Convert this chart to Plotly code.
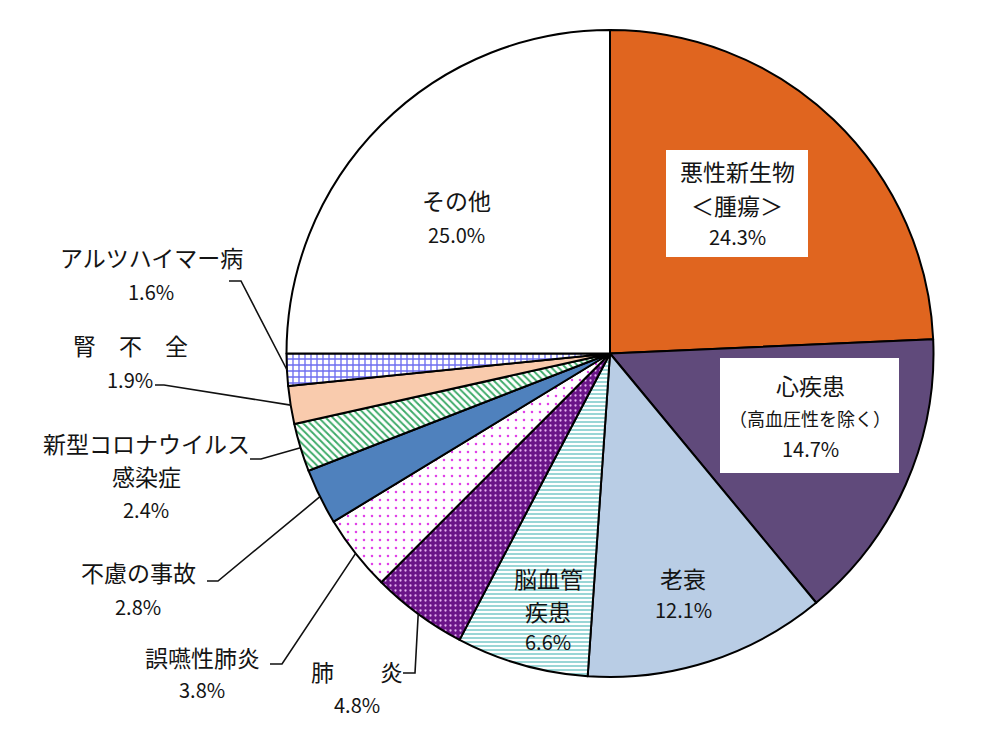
import math
import plotly.graph_objects as go

# ---------------- data ----------------
categories = ["悪性新生物＜腫瘍＞", "心疾患（高血圧性を除く）", "老衰", "脳血管疾患", "肺炎",
              "誤嚥性肺炎", "不慮の事故", "新型コロナウイルス感染症", "腎不全",
              "アルツハイマー病", "その他"]
values = [24.3, 14.7, 12.1, 6.6, 4.8, 3.8, 2.8, 2.4, 1.9, 1.6, 25.0]
label_lines = [["悪性新生物", "＜腫瘍＞"], ["心疾患", "（高血圧性を除く）"], ["老衰"],
               ["脳血管", "疾患"], ["肺　　炎"], ["誤嚥性肺炎"], ["不慮の事故"],
               ["新型コロナウイルス", "感染症"], ["腎　不　全"], ["アルツハイマー病"], ["その他"]]
pct_labels = [f"{v:.1f}%" for v in values]

# ---------------- styles ----------------
W, H = 1004, 753
OFF = 8  # page body margin
CX, CY, R = 610, 353.5, 323.5
colors = ["#E0651F", "#604A7B", "#B9CDE5", "#E8F7F7", "#6A1488", "#FFFFFF",
          "#4F81BD", "#FFFFFF", "#F9CBAD", "#FFFFFF", "#FFFFFF"]
p_shape = ["", "", "", "-", ".", ".", "", "\\", "", "+", ""]
p_fg = ["#000", "#000", "#000", "#8FD2D2", "#E6B4F0", "#E040E8", "#000", "#3DAA68",
        "#000", "#6E6EF0", "#000"]
p_bg = ["#E0651F", "#604A7B", "#B9CDE5", "#FFFFFF", "#6A1488", "#FFFFFF", "#4F81BD",
        "#FFFFFF", "#F9CBAD", "#FFFFFF", "#FFFFFF"]
p_size = [8, 8, 8, 4, 5, 8, 8, 5, 8, 6, 8]
p_sol = [0.3, 0.3, 0.3, 0.45, 0.16, 0.08, 0.3, 0.38, 0.3, 0.4, 0.3]

JP = "Noto Sans CJK JP"
TXT = "#141414"

def px(x, y):
    return (x - OFF) / W, 1 - (y - OFF) / H

fig = go.Figure(go.Pie(
    labels=categories, values=values, sort=False, direction="clockwise", rotation=0,
    textinfo="none", hoverinfo="label+percent", showlegend=False,
    marker=dict(colors=colors, line=dict(color="black", width=2),
                pattern=dict(shape=p_shape, fgcolor=p_fg, bgcolor=p_bg,
                             size=p_size, solidity=p_sol, fillmode="replace")),
    domain=dict(x=[(CX - OFF - R) / W, (CX - OFF + R) / W],
                y=[1 - (CY - OFF + R) / H, 1 - (CY - OFF - R) / H]),
))

# slice mid-angle edge points (computed from values)
total = sum(values)
edge = []
cum = 0
for v in values:
    mid = (cum + v / 2) / total * 2 * math.pi
    cum += v
    edge.append((CX + R * math.sin(mid), CY - R * math.cos(mid)))

# label placement (pixel centres)
place = {
    0: dict(x=737, ys=[171, 205], py=237),
    1: dict(x=810, ys=[385, 418], py=448, small=[1]),
    2: dict(x=683, ys=[578], py=609),
    3: dict(x=548, ys=[578, 611], py=641),
    4: dict(x=357, ys=[671], py=704),
    5: dict(x=202, ys=[657], py=689),
    6: dict(x=138, ys=[572], py=606),
    7: dict(x=146, ys=[443, 476], py=509),
    8: dict(x=130, ys=[345], py=379),
    9: dict(x=151, ys=[257], py=291),
    10: dict(x=456, ys=[200], py=235),
}

annotations = []
for i, p in place.items():
    for j, (line, y) in enumerate(zip(label_lines[i], p["ys"])):
        small = j in p.get("small", [])
        ax, ay = px(p["x"], y)
        annotations.append(dict(x=ax, y=ay, xref="paper", yref="paper", text=line,
                                showarrow=False, xanchor="center", yanchor="middle",
                                font=dict(family=JP, size=18 if small else 23, color=TXT)))
    ax, ay = px(p["x"], p["py"])
    annotations.append(dict(x=ax, y=ay, xref="paper", yref="paper", text=pct_labels[i],
                            showarrow=False, xanchor="center", yanchor="middle",
                            font=dict(family=JP, size=20, color=TXT)))

shapes = []
# white boxes behind the two large inside labels
for (x0, y0, x1, y1) in [(666, 150, 808, 257), (720, 358, 899, 473)]:
    a0, b0 = px(x0, y1)
    a1, b1 = px(x1, y0)
    shapes.append(dict(type="rect", xref="paper", yref="paper", x0=a0, y0=b0, x1=a1, y1=b1,
                       fillcolor="white", line=dict(width=0), layer="above"))

# leader lines: label end -> knee -> slice edge midpoint
leaders = {9: [(229, 281), (241, 281)], 8: [(155, 385), (164, 385)],
           7: [(250, 459), (261, 459)], 6: [(207, 581), (218, 581)],
           5: [(270, 664), (282, 664)], 4: [(403, 673), (415, 673)]}
for i, pts in leaders.items():
    allp = pts + [edge[i]]
    path = ""
    for k, (x, y) in enumerate(allp):
        a, b = px(x, y)
        path += ("M" if k == 0 else " L") + f" {a:.5f} {b:.5f}"
    shapes.append(dict(type="path", xref="paper", yref="paper", path=path,
                       line=dict(color="#111", width=1.6), layer="above"))

fig.update_layout(width=W, height=H, margin=dict(l=0, r=0, t=0, b=0),
                  paper_bgcolor="white", plot_bgcolor="white",
                  annotations=annotations, shapes=shapes)
fig.write_html("out.html")
